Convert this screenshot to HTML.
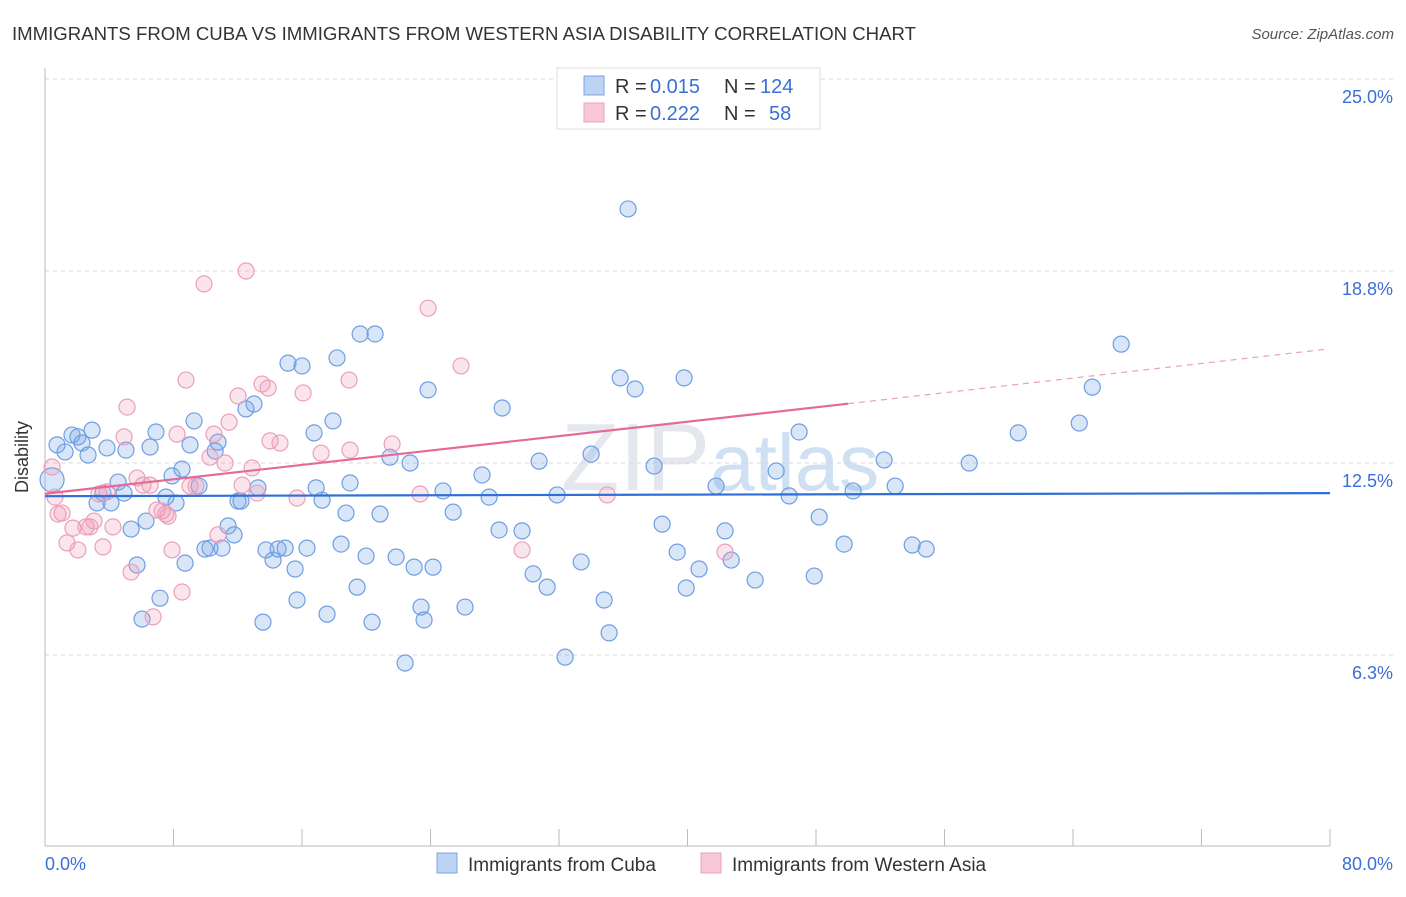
<!DOCTYPE html>
<html><head><meta charset="utf-8"><style>
body{margin:0;background:#fff;font-family:"Liberation Sans",sans-serif}
svg text{font-family:"Liberation Sans",sans-serif}
</style></head><body>
<svg width="1406" height="892" xmlns="http://www.w3.org/2000/svg">
<text x="12" y="40" font-size="18.6" fill="#333">IMMIGRANTS FROM CUBA VS IMMIGRANTS FROM WESTERN ASIA DISABILITY CORRELATION CHART</text>
<text x="1394" y="39" font-size="15" fill="#555" font-style="italic" text-anchor="end">Source: ZipAtlas.com</text>
<text x="720" y="490" font-size="96" fill="#e4e8ee" text-anchor="middle" font-family="Liberation Serif">ZIP<tspan fill="#cfe0f3" font-family="Liberation Sans" font-size="80">atlas</tspan></text>
<g id="grid"></g>
<g id="axes"></g>
<g id="marks"></g>
<text x="28" y="457" font-size="18" fill="#333" text-anchor="middle" transform="rotate(-90 28 457)">Disability</text>
<g>
<rect x="557" y="68" width="263" height="61" fill="#fff" stroke="#ddd"/>
<rect x="584" y="76" width="20" height="19" fill="#bcd3f3" stroke="#7aa5e3"/>
<rect x="584" y="103" width="20" height="19" fill="#f8c8d8" stroke="#eba3bd"/>
<text x="615" y="93" font-size="20" fill="#333">R =</text>
<text x="650" y="93" font-size="20" fill="#3a6fd8">0.015</text>
<text x="724" y="93" font-size="20" fill="#333">N =</text>
<text x="760" y="93" font-size="20" fill="#3a6fd8">124</text>
<text x="615" y="120" font-size="20" fill="#333">R =</text>
<text x="650" y="120" font-size="20" fill="#3a6fd8">0.222</text>
<text x="724" y="120" font-size="20" fill="#333">N =</text>
<text x="769" y="120" font-size="20" fill="#3a6fd8">58</text>
</g>
<g>
<rect x="437" y="853" width="20" height="20" fill="#bcd3f3" stroke="#7aa5e3"/>
<text x="468" y="871" font-size="19" fill="#333">Immigrants from Cuba</text>
<rect x="701" y="853" width="20" height="20" fill="#f8c8d8" stroke="#eba3bd"/>
<text x="732" y="871" font-size="19" fill="#333">Immigrants from Western Asia</text>
</g>
</svg>
<script>
const yTicks=[25,18.75,12.5,6.25];
const yTickLabels=["25.0%","18.8%","12.5%","6.3%"];
const xTicks=[0,8,16,24,32,40,48,56,64,72,80];
const xEndLabels=["0.0%","80.0%"];
const cubaX=[0.44,0.75,1.25,1.68,2.05,2.30,2.68,2.93,3.24,3.61,3.86,4.11,4.55,4.92,5.04,5.36,5.73,6.04,6.29,6.54,6.91,7.16,7.53,7.91,8.16,8.53,8.72,9.03,9.28,9.59,9.96,10.27,10.59,10.77,11.02,11.40,11.77,12.02,12.20,12.51,13.01,13.26,13.57,13.76,14.20,14.51,14.95,15.13,15.57,15.69,16.00,16.31,16.75,16.88,17.25,17.56,17.93,18.18,18.43,18.74,18.99,19.43,19.62,19.99,20.36,20.55,20.86,21.48,21.86,22.42,22.73,22.98,23.41,23.60,23.85,24.16,24.78,25.41,26.15,27.21,27.65,28.27,28.46,29.70,30.39,30.76,31.26,31.88,32.38,33.38,34.00,34.81,35.12,35.81,36.30,36.74,37.92,38.42,39.36,39.79,39.92,40.72,41.78,42.34,42.72,44.21,45.52,46.33,46.95,47.89,48.20,49.75,50.31,52.24,52.93,53.99,54.86,57.54,60.59,64.39,65.20,67.00];
const cubaY=[11.95,13.09,12.86,13.41,13.35,13.15,12.76,13.57,11.20,11.52,12.99,11.20,11.88,11.52,12.92,10.35,9.18,7.42,10.61,13.02,13.51,8.10,11.39,12.08,11.20,12.30,9.24,13.09,13.87,11.75,9.70,9.73,12.89,13.18,9.73,10.45,10.16,11.26,11.26,14.26,14.42,11.69,7.32,9.67,9.34,9.70,9.73,15.75,9.05,8.04,15.66,9.73,13.48,11.69,11.29,7.58,13.87,15.92,9.86,10.87,11.85,8.46,16.70,9.47,7.32,16.70,10.84,12.69,9.44,5.99,12.50,9.11,7.81,7.39,14.88,9.11,11.59,10.90,7.81,12.11,11.39,10.32,14.29,10.29,8.89,12.56,8.46,11.46,6.18,9.28,12.79,8.04,6.97,15.27,20.77,14.91,12.40,10.51,9.60,15.27,8.43,9.05,11.75,10.29,9.34,8.69,12.24,11.43,13.51,8.82,10.74,9.86,11.59,12.60,11.75,9.83,9.70,12.50,13.48,13.80,14.97,16.37];
const waX=[0.44,0.62,0.81,1.06,1.37,1.74,2.05,2.55,2.80,3.05,3.36,3.61,3.86,4.23,4.92,5.11,5.36,5.73,6.10,6.54,6.73,6.97,7.29,7.53,7.66,7.91,8.22,8.53,8.78,9.03,9.40,9.90,10.27,10.52,10.77,11.21,11.46,12.02,12.27,12.52,12.89,13.20,13.51,13.89,14.01,14.63,15.69,16.07,17.19,18.93,18.99,21.61,23.35,23.85,25.90,29.70,35.00,42.34];
const waY=[12.37,11.39,10.84,10.87,9.90,10.38,9.67,10.42,10.42,10.61,11.49,9.77,11.56,10.42,13.35,14.32,8.95,12.01,11.78,11.78,7.49,10.97,10.94,10.84,10.77,9.67,13.44,8.30,15.20,11.75,11.75,18.33,12.69,13.44,10.16,12.50,13.83,14.68,11.78,18.75,12.34,11.52,15.07,14.94,13.22,13.15,11.36,14.78,12.82,15.20,12.92,13.12,11.49,17.54,15.66,9.67,11.46,9.60];
const cubaTrend=[11.42,11.52];
const waTrend=[11.5,14.43,16.2];
const waTrendX=[0,50,79.7];

const NS="http://www.w3.org/2000/svg";
const X=v=>45+v*16.0625, Y=v=>847-v*30.72;
function mk(parent,tag,attrs){const e=document.createElementNS(NS,tag);for(const k in attrs)e.setAttribute(k,attrs[k]);document.getElementById(parent).appendChild(e);return e;}
yTicks.forEach((t,i)=>{
 const l=mk('grid','line',{x1:45,x2:1394,y1:Y(t),y2:Y(t),stroke:'#d8d8d8','stroke-dasharray':'4,4'});
 
 
 const tx=mk('grid','text',{x:1393,y:Y(t)+24,'font-size':18,fill:'#3a6fd8','text-anchor':'end'});
 tx.textContent=yTickLabels[i];
 
 
});
const ax=mk('axes','line',{x1:45,x2:45,y1:68,y2:846,stroke:'#bbb'});


const bx=mk('axes','line',{x1:45,x2:1330,y1:846,y2:846,stroke:'#bbb'});


xTicks.forEach(t=>{
 const l=mk('axes','line',{x1:X(t),x2:X(t),y1:829,y2:846,stroke:'#bbb'});
 
 
});
const xl0=mk('axes','text',{x:45,y:870,'font-size':18,fill:'#3a6fd8'});xl0.textContent=xEndLabels[0];


const xl1=mk('axes','text',{x:1393,y:870,'font-size':18,fill:'#3a6fd8','text-anchor':'end'});xl1.textContent=xEndLabels[1];


cubaX.forEach((x,i)=>{
 const c=mk('marks','circle',{cx:X(x),cy:Y(cubaY[i]),r:i===0?12:8,fill:'rgba(120,165,230,0.28)',stroke:'#6f9ee2','stroke-width':1.2});
 
 
});
waX.forEach((x,i)=>{
 const c=mk('marks','circle',{cx:X(x),cy:Y(waY[i]),r:8,fill:'rgba(240,150,180,0.25)',stroke:'#eb9fbb','stroke-width':1.2});
 
 
});
const tb=mk('marks','line',{x1:X(0),x2:X(80),y1:Y(cubaTrend[0]),y2:Y(cubaTrend[1]),stroke:'#2f6fd6','stroke-width':2.2});


const tp=mk('marks','line',{x1:X(waTrendX[0]),x2:X(waTrendX[1]),y1:Y(waTrend[0]),y2:Y(waTrend[1]),stroke:'#e56a96','stroke-width':2.2});


const td=mk('marks','line',{x1:X(waTrendX[1]),x2:X(waTrendX[2]),y1:Y(waTrend[1]),y2:Y(waTrend[2]),stroke:'#e9a0ba','stroke-width':1.2,'stroke-dasharray':'6,5'});


</script>
</body></html>
